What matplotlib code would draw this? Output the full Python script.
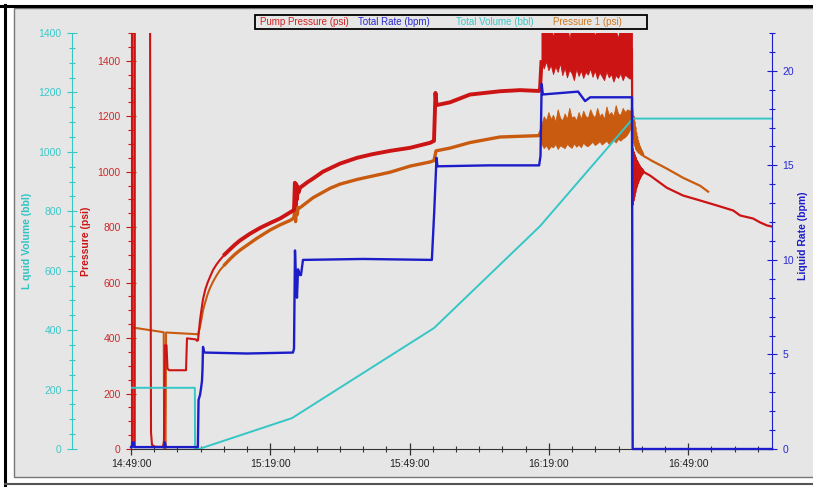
import numpy as np
import matplotlib
matplotlib.use('Agg')
import matplotlib.pyplot as plt
from matplotlib.patches import Rectangle
from matplotlib.lines import Line2D
from matplotlib.ticker import MultipleLocator

plt.rcParams['font.family'] = ['Liberation Sans', 'DejaVu Sans']

# time axis: minutes after 14:49:00
tick_minutes = [0, 30, 60, 90, 120]
tick_labels = ['14:49:00', '15:19:00', '15:49:00', '16:19:00', '16:49:00']

# Pump Pressure (psi) before the high-rate stage
pump_t = [0, 0.2, 0.22, 0.3, 0.32, 0.8, 0.82, 4.09, 4.31, 4.52, 5.2, 6.9, 7.1, 7.3,
          7.65, 7.86, 8.2, 11.85, 12.06, 14.0, 14.21, 14.43, 14.86, 15.2, 15.51, 16.0,
          16.5, 17.0, 17.66, 18.4, 19.17, 20.2, 21.32, 22.4, 23.48, 25.6, 27.78, 30.0,
          32.09, 34.25, 35.11, 35.3, 35.45, 35.6, 35.75, 35.9, 36.1, 36.4, 38.0, 39.2,
          41.35, 45.0, 48.7, 52.0, 55.8, 60.1, 64.4, 65.26, 65.58, 65.8, 68.7, 73.0,
          79.5, 83.8, 87.87, 88.1, 88.4]
pump_p = [10, 10, 1650, 1650, 10, 10, 1650, 1650, 60, 15, 8, 8, 30, 374,
          374, 290, 284, 284, 399, 395, 390, 392, 464, 505, 540, 575,
          600, 620, 645, 665, 682, 702, 720, 737, 752, 776, 797, 815,
          831, 853, 862, 960, 880, 955, 900, 945, 925, 942, 962, 975,
          1000, 1029, 1050, 1063, 1075, 1086, 1104, 1111, 1284, 1240, 1250, 1278,
          1290, 1294, 1291, 1300, 1395]

# Pump Pressure after shut-in
pump_tail_t = [107.9, 108.0, 108.1, 108.2, 108.3, 108.4, 108.5, 108.6, 108.7, 108.8,
               108.9, 109.0, 109.1, 109.2, 109.3, 109.4, 109.5, 109.6, 109.7, 109.8,
               109.9, 110.0, 110.1, 110.2, 110.3, 110.5, 111.8, 115.4, 118.9, 122.6,
               126.2, 129.7, 131.2, 134.0, 135.5, 137.0, 138.1]
pump_tail_p = [1440, 880, 1080, 895, 1070, 910, 1060, 925, 1050, 940,
               1040, 950, 1035, 960, 1028, 968, 1022, 975, 1016, 982,
               1012, 988, 1008, 992, 1004, 998, 986, 942, 914, 896,
               878, 860, 842, 831, 817, 806, 802]

# Pressure 1 (psi)
p1_t = [0, 7.05, 7.15, 7.45, 7.55, 14.21, 14.43, 14.86, 15.2, 15.51, 16.0, 16.5, 17.0,
        17.66, 18.4, 19.17, 20.2, 21.32, 22.4, 23.48, 25.6, 27.14, 30.0, 32.09, 34.25,
        34.9, 35.1, 35.3, 35.45, 35.6, 35.8, 36.0, 36.4, 39.2, 42.86, 45.0, 48.7, 55.8,
        60.1, 64.4, 65.26, 65.69, 68.71, 73.01, 79.47, 87.87, 88.4]
p1_p = [439, 421, 0, 0, 420, 414, 412, 440, 470, 500, 530, 558, 580,
        603, 625, 645, 665, 685, 702, 717, 742, 760, 790, 808, 824,
        831, 835, 875, 820, 880, 845, 870, 870, 906, 940, 955, 972, 998,
        1020, 1035, 1040, 1075, 1085, 1105, 1125, 1130, 1150]

p1_tail_t = [107.9, 108.0, 108.1, 108.2, 108.3, 108.4, 108.5, 108.6, 108.7, 108.8,
             108.9, 109.0, 109.1, 109.2, 109.3, 109.4, 109.5, 109.6, 109.7, 109.8,
             109.9, 110.0, 110.1, 110.2, 110.4, 110.9, 112.1, 115.4, 118.9, 122.6, 124.3]
p1_tail_p = [1225, 1220, 1150, 1200, 1120, 1180, 1100, 1160, 1090, 1140,
             1080, 1125, 1075, 1110, 1070, 1100, 1068, 1090, 1065, 1082,
             1062, 1075, 1060, 1068, 1056, 1052, 1040, 1011, 978, 949, 928]

# noisy high-rate stage: upper / lower envelopes every half minute
band_t = np.arange(88.4, 108.0, 0.5)
pump_hi = [1520, 1530, 1520, 1520, 1540, 1485, 1520, 1525, 1520, 1515,
           1520, 1535, 1478, 1520, 1520, 1520, 1530, 1505, 1520, 1520,
           1515, 1520, 1530, 1488, 1520, 1525, 1520, 1515, 1520, 1530,
           1520, 1520, 1510, 1482, 1525, 1520, 1515, 1520, 1520, 1510]
pump_lo = [1395, 1372, 1398, 1366, 1385, 1352, 1380, 1360, 1392, 1348,
           1375, 1340, 1368, 1355, 1330, 1372, 1345, 1365, 1338, 1360,
           1350, 1372, 1342, 1365, 1335, 1358, 1344, 1330, 1362, 1340,
           1352, 1325, 1348, 1338, 1355, 1330, 1350, 1342, 1335, 1350]
p1_hi = [1170, 1200, 1185, 1215, 1190, 1205, 1180, 1225, 1195, 1185,
         1210, 1190, 1230, 1195, 1200, 1185, 1215, 1190, 1220, 1200,
         1195, 1225, 1205, 1195, 1230, 1200, 1210, 1190, 1235, 1205,
         1215, 1200, 1240, 1210, 1205, 1230, 1215, 1225, 1220, 1225]
p1_lo = [1100, 1085, 1095, 1080, 1092, 1088, 1100, 1082, 1095, 1090,
         1085, 1100, 1092, 1086, 1102, 1090, 1098, 1088, 1105, 1095,
         1092, 1100, 1108, 1096, 1102, 1110, 1098, 1105, 1112, 1100,
         1110, 1115, 1105, 1118, 1112, 1120, 1125, 1135, 1150, 1190]

# Total Rate (bpm)
rate_t = [0, 0.2, 0.3, 0.6, 0.7, 7.2, 7.3, 7.5, 14.4, 14.55, 14.86, 15.08, 15.29, 15.4,
          15.51, 15.72, 15.94, 25.0, 34.89, 35.11, 35.32, 35.54, 35.75, 35.97, 36.4, 36.61,
          37.04, 50.0, 64.8, 65.3, 65.8, 66.0, 77.0, 87.9, 88.2, 88.45, 88.7, 96.3, 97.8,
          98.9, 107.9, 108.05, 138.1]
rate_v = [0.1, 0.1, 0.35, 0.35, 0.1, 0.1, 0.35, 0.1, 0.1, 2.6, 2.85, 3.2, 3.6, 4.2,
          5.4, 5.15, 5.1, 5.05, 5.1, 5.3, 10.5, 9.0, 8.0, 9.5, 9.2, 9.2,
          10.0, 10.05, 10.0, 12.5, 15.4, 14.95, 15.0, 15.0, 15.5, 19.3, 18.75, 18.9, 18.4,
          18.6, 18.6, 0, 0]

# Total Volume (bbl)
vol_t = [0, 13.75, 13.8, 14.65, 34.68, 65.26, 88.1, 108.1, 138.1]
vol_v = [206, 206, 0, 0, 104, 407, 750, 1112, 1112]

RED = '#cc1414'
ORANGE = '#c95b10'
BLUE = '#1c1cc8'
CYAN = '#35c6c6'

W, H = 813, 490
def fx(px):
    return px / W
def fy(py):
    return 1 - py / H

fig = plt.figure(figsize=(W / 100, H / 100), dpi=100, facecolor='white')

# panel and outer frame
fig.add_artist(Rectangle((fx(14), fy(477)), 1.05 - fx(14), fy(8) - fy(477),
                         transform=fig.transFigure, facecolor='#e6e6e6',
                         edgecolor='#777777', linewidth=1, zorder=-10))
fig.add_artist(Line2D([0, 1], [fy(6), fy(6)], transform=fig.transFigure,
                      color='black', linewidth=2.2))
fig.add_artist(Line2D([fx(5), fx(5)], [fy(5), fy(485)], transform=fig.transFigure,
                      color='black', linewidth=2.2))
fig.add_artist(Line2D([fx(5), 1], [fy(484), fy(484)], transform=fig.transFigure,
                      color='#555555', linewidth=1.5))

ax = fig.add_axes([fx(131), fy(449), (772 - 131) / W, (449 - 33) / H])
ax.set_facecolor('none')
ax_v = ax.twinx()
ax_r = ax.twinx()

# pressures: thin while quiet, thicker where the gauges get noisy
pump_t_arr, pump_p_arr = np.array(pump_t), np.array(pump_p)
p1_t_arr, p1_p_arr = np.array(p1_t), np.array(p1_p)
quiet = pump_t_arr <= 20.2
ax.plot(p1_t_arr[p1_t_arr <= 20.2], p1_p_arr[p1_t_arr <= 20.2], color=ORANGE, lw=1.5, zorder=2)
ax.plot(p1_t_arr[p1_t_arr >= 20.2], p1_p_arr[p1_t_arr >= 20.2], color=ORANGE, lw=2.4, zorder=2)
ax.plot(p1_tail_t, p1_tail_p, color=ORANGE, lw=1.6, zorder=2)
ax.fill_between(band_t, p1_lo, p1_hi, color=ORANGE, lw=0.6, zorder=2)
ax.plot(pump_t_arr[quiet], pump_p_arr[quiet], color=RED, lw=1.5, zorder=3)
ax.plot(pump_t_arr[pump_t_arr >= 20.2], pump_p_arr[pump_t_arr >= 20.2], color=RED, lw=2.8, zorder=3)
ax.plot(pump_tail_t, pump_tail_p, color=RED, lw=1.6, zorder=3)
ax.fill_between(band_t, pump_lo, pump_hi, color=RED, lw=0.6, zorder=3)

ax_v.plot(vol_t, vol_v, color=CYAN, lw=1.4)
ax_r.plot(rate_t, rate_v, color=BLUE, lw=1.7, clip_on=False)

ax.set_xlim(0, 138.06)
ax.set_ylim(0, 1500)
ax_v.set_ylim(0, 1400)
ax_r.set_ylim(0, 22)

ax.set_xticks(tick_minutes)
ax.set_xticklabels(tick_labels)
ax.xaxis.set_minor_locator(MultipleLocator(5))
ax.tick_params(axis='x', which='major', direction='inout', length=8, width=0.9,
               color='#333333', labelcolor='#222222', labelsize=7.5, pad=3)
ax.tick_params(axis='x', which='minor', direction='inout', length=5, width=0.8,
               color='#333333')

ax.yaxis.set_major_locator(MultipleLocator(200))
ax.yaxis.set_minor_locator(MultipleLocator(50))
ax.tick_params(axis='y', which='major', direction='inout', length=7, width=0.8,
               color=RED, labelcolor='#cc2a2a', labelsize=7.5, pad=4)
ax.tick_params(axis='y', which='minor', direction='inout', length=4, width=0.8, color=RED)

ax_v.yaxis.set_ticks_position('left')
ax_v.yaxis.set_label_position('left')
ax_v.yaxis.set_major_locator(MultipleLocator(200))
ax_v.yaxis.set_minor_locator(MultipleLocator(50))
ax_v.tick_params(axis='y', which='major', direction='inout', length=7, width=0.8,
                 color=CYAN, labelcolor='#3cc8c8', labelsize=7.5, pad=4)
ax_v.tick_params(axis='y', which='minor', direction='inout', length=4, width=0.8, color=CYAN)

ax_r.yaxis.set_major_locator(MultipleLocator(5))
ax_r.yaxis.set_minor_locator(MultipleLocator(1))
ax_r.tick_params(axis='y', which='major', direction='inout', length=7, width=0.8,
                 color=BLUE, labelcolor='#2a2ad0', labelsize=7.5, pad=4)
ax_r.tick_params(axis='y', which='minor', direction='inout', length=4, width=0.8, color=BLUE)

for a in (ax, ax_v, ax_r):
    for s in a.spines.values():
        s.set_visible(False)
ax.spines['left'].set_visible(True)
ax.spines['left'].set_color(RED)
ax.spines['bottom'].set_visible(True)
ax.spines['bottom'].set_color('#333333')
ax_v.spines['left'].set_visible(True)
ax_v.spines['left'].set_color(CYAN)
ax_v.spines['left'].set_position(('axes', (72 - 131) / 641))
ax_r.spines['right'].set_visible(True)
ax_r.spines['right'].set_color(BLUE)

ax.set_ylabel('Pressure (psi)', color=RED, fontsize=7.5, fontweight='bold')
ax.yaxis.set_label_coords((91 - 131) / 641, 0.5)
ax_v.set_ylabel('L quid Volume (bbl)', color='#2ec4c4', fontsize=7.5, fontweight='bold')
ax_v.yaxis.set_label_coords((32 - 131) / 641, 0.5)
ax_r.set_ylabel('Liquid Rate (bpm)', color=BLUE, fontsize=7.5, fontweight='bold')
ax_r.yaxis.set_label_coords((798 - 131) / 641, 0.512)

# legend box with coloured entries
fig.add_artist(Rectangle((fx(255), fy(29)), fx(647) - fx(255), fy(15) - fy(29),
                         transform=fig.transFigure, facecolor='#e6e6e6',
                         edgecolor='black', linewidth=1.3))
legend_items = [('Pump Pressure (psi)', 260, '#d42222'),
                ('Total Rate (bpm)', 358, '#2a2ad0'),
                ('Total Volume (bbl)', 456, '#3cc8c8'),
                ('Pressure 1 (psi)', 553, '#d07a22')]
for label, px, c in legend_items:
    fig.text(fx(px), fy(22), label, color=c, fontsize=7, va='center', ha='left')

fig.savefig('out.png', dpi=100, facecolor='white')
